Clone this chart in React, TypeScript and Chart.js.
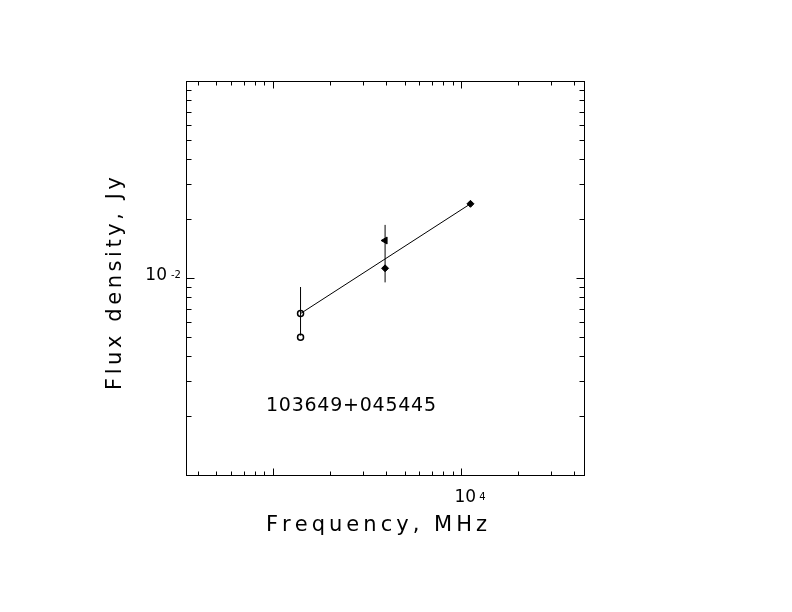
import { useEffect, useRef } from "react";
import { Chart, registerables } from "chart.js";

Chart.register(...registerables);

// Axis ranges (MHz, Jy)
const xRange = [344.6, 44950];
const yRange = [0.001, 0.1];

// Tick positions
const xMinorTicks = [400, 500, 600, 700, 800, 900, 2000, 3000, 4000, 5000, 6000, 7000, 8000, 9000, 20000, 30000, 40000];
const xMajorTicks = [1000, 10000];
const yMinorTicks = [0.002, 0.003, 0.004, 0.005, 0.006, 0.007, 0.008, 0.009, 0.02, 0.03, 0.04, 0.05, 0.06, 0.07, 0.08, 0.09];
const yMajorTicks = [0.01];

// Tick labels (base + exponent)
const xLabelValues = [10000];
const xLabelExps = ["4"];
const yLabelValues = [0.01];
const yLabelExps = ["-2"];

// Data series
const openFreq = [1400, 1400];
const openFlux = [0.0066, 0.005];
const triangleFreq = [3940];
const triangleFlux = [0.0155];
const filledFreq = [3940, 11200];
const filledFlux = [0.0112, 0.0238];
const errFreq = [1400, 3940];
const errLow = [0.0051, 0.0095];
const errHigh = [0.009, 0.0186];
const fitFreq = [1400, 11200];
const fitFlux = [0.0066, 0.0238];

const sourceName = "103649+045445";
const xTitle = "Frequency, MHz";
const yTitle = "Flux density, Jy";

function drawSpaced(
  ctx: CanvasRenderingContext2D,
  text: string,
  x: number,
  y: number,
  target: number
) {
  const chars = text.split("");
  const widths = chars.map((c) => ctx.measureText(c).width);
  const total = widths.reduce((a, b) => a + b, 0);
  const gap = chars.length > 1 ? (target - total) / (chars.length - 1) : 0;
  let cx = x;
  chars.forEach((c, i) => {
    ctx.fillText(c, cx, y);
    cx += widths[i] + gap;
  });
}

const framePlugin = {
  id: "frame",
  afterDraw(chart: any) {
    const ctx: CanvasRenderingContext2D = chart.ctx;
    const { left, right, top, bottom } = chart.chartArea;
    const xs = chart.scales.x;
    const ys = chart.scales.y;
    const L = Math.round(left) + 0.5;
    const R = Math.round(right) + 0.5;
    const T = Math.round(top) + 0.5;
    const B = Math.round(bottom) + 0.5;
    ctx.save();
    ctx.strokeStyle = "#000";
    ctx.fillStyle = "#000";
    ctx.lineWidth = 1;
    ctx.strokeRect(L, T, R - L, B - T);
    ctx.beginPath();
    const xt = (v: number, len: number) => {
      const px = Math.round(xs.getPixelForValue(v)) + 0.5;
      ctx.moveTo(px, B);
      ctx.lineTo(px, B - len);
      ctx.moveTo(px, T);
      ctx.lineTo(px, T + len);
    };
    const yt = (v: number, len: number) => {
      const py = Math.round(ys.getPixelForValue(v)) + 0.5;
      ctx.moveTo(L, py);
      ctx.lineTo(L + len, py);
      ctx.moveTo(R, py);
      ctx.lineTo(R - len, py);
    };
    xMinorTicks.forEach((v) => xt(v, 4));
    xMajorTicks.forEach((v) => xt(v, 7));
    yMinorTicks.forEach((v) => yt(v, 5));
    yMajorTicks.forEach((v) => yt(v, 8));
    ctx.stroke();

    // tick labels
    ctx.textBaseline = "middle";
    xLabelValues.forEach((v, i) => {
      const px = xs.getPixelForValue(v);
      ctx.font = "17px 'DejaVu Sans'";
      ctx.textAlign = "center";
      ctx.fillText("10", px + 4, 498);
      ctx.font = "10px 'DejaVu Sans'";
      ctx.textAlign = "left";
      ctx.fillText(xLabelExps[i], px + 18, 497);
    });
    yLabelValues.forEach((v, i) => {
      const py = ys.getPixelForValue(v);
      ctx.font = "17px 'DejaVu Sans'";
      ctx.textAlign = "right";
      ctx.fillText("10", left - 19, py - 2.5);
      ctx.font = "10px 'DejaVu Sans'";
      ctx.textAlign = "left";
      ctx.fillText(yLabelExps[i], left - 15, py - 3);
    });

    // axis titles
    ctx.textAlign = "left";
    ctx.textBaseline = "alphabetic";
    ctx.font = "21px 'DejaVu Sans'";
    drawSpaced(ctx, xTitle, 266, 531, 221);
    ctx.save();
    ctx.translate(121, 390);
    ctx.rotate(-Math.PI / 2);
    drawSpaced(ctx, yTitle, 0, 0, 213);
    ctx.restore();

    // source name
    ctx.font = "19px 'DejaVu Sans'";
    drawSpaced(ctx, sourceName, 266, 411, 170);
    ctx.restore();
  },
};

export default function App() {
  const ref = useRef<HTMLCanvasElement | null>(null);
  useEffect(() => {
    if (!ref.current) return;
    const pts = (xsArr: number[], ysArr: number[]) => xsArr.map((x, i) => ({ x, y: ysArr[i] }));
    const errSets = errFreq.map((f, i) => ({
      type: "line" as const,
      data: [
        { x: f, y: errLow[i] },
        { x: f, y: errHigh[i] },
      ],
      borderColor: "#000",
      borderWidth: 1,
      pointRadius: 0,
      showLine: true,
    }));
    const chart = new Chart(ref.current, {
      type: "scatter",
      data: {
        datasets: [
          ...errSets,
          {
            type: "line",
            data: pts(fitFreq, fitFlux),
            borderColor: "#000",
            borderWidth: 1,
            pointRadius: 0,
            showLine: true,
          },
          {
            data: pts(openFreq, openFlux),
            pointStyle: "circle",
            pointRadius: 3,
            borderColor: "#000",
            borderWidth: 1.5,
            backgroundColor: "#fff",
          },
          {
            data: pts(triangleFreq, triangleFlux),
            pointStyle: "triangle",
            rotation: -90,
            pointRadius: 4,
            borderColor: "#000",
            borderWidth: 1,
            backgroundColor: "#000",
          },
          {
            data: pts(filledFreq, filledFlux),
            pointStyle: "rectRot",
            pointRadius: 3.5,
            borderColor: "#000",
            borderWidth: 1,
            backgroundColor: "#000",
          },
        ] as any,
      },
      options: {
        animation: false,
        responsive: false,
        maintainAspectRatio: false,
        devicePixelRatio: 1,
        layout: { padding: { left: 186, top: 81, right: 208, bottom: 137 } },
        plugins: { legend: { display: false }, tooltip: { enabled: false } },
        scales: {
          x: { type: "logarithmic", min: xRange[0], max: xRange[1], display: false },
          y: { type: "logarithmic", min: yRange[0], max: yRange[1], display: false },
        },
      },
      plugins: [framePlugin],
    });
    return () => chart.destroy();
  }, []);
  return (
    <div style={{ position: "absolute", left: 0, top: 0, width: 792, height: 612, background: "#fff" }}>
      <canvas ref={ref} width={792} height={612} style={{ width: 792, height: 612 }} />
    </div>
  );
}
